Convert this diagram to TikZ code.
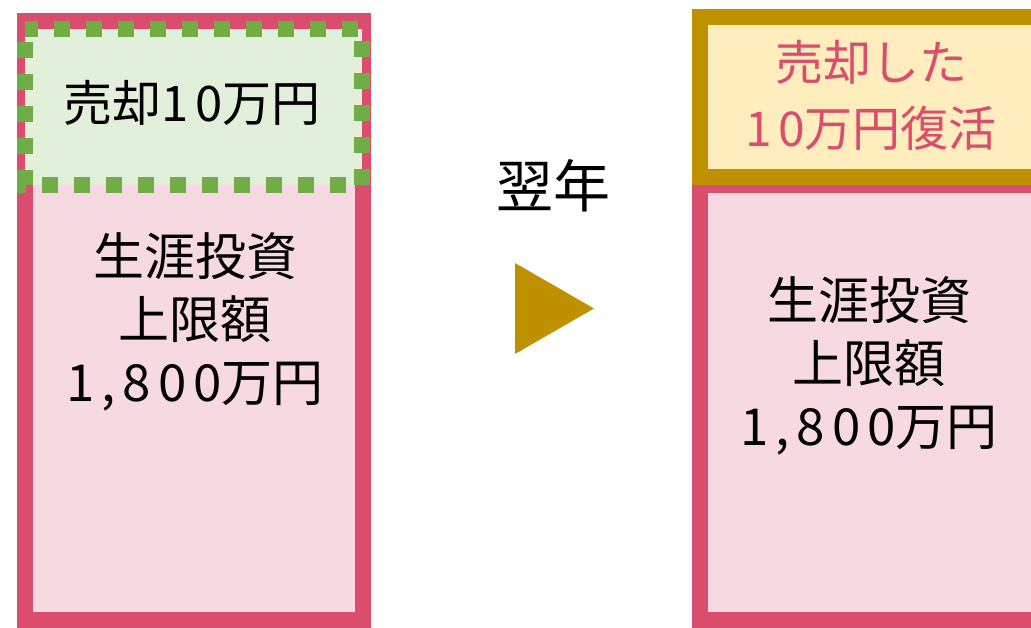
\documentclass[tikz,border=0pt]{standalone}
\usepackage{fontspec}
\newfontfamily\jp{Noto Sans CJK JP}
\newfontfamily\jpd[LetterSpace=14]{Noto Sans CJK JP}
\definecolor{pinkline}{HTML}{DB4D6D}
\definecolor{pinkfill}{HTML}{F7D9E1}
\definecolor{greenline}{HTML}{70AD47}
\definecolor{greenfill}{HTML}{E2EFDA}
\definecolor{goldline}{HTML}{BF9000}
\definecolor{goldfill}{HTML}{FFEDBD}
\tikzset{
  pinkbox/.style={draw=pinkline, fill=pinkfill, line width=16pt},
  greenbox/.style={draw=greenline, fill=greenfill, line width=16pt, dash pattern=on 16pt off 16pt, dash phase=19pt},
  goldbox/.style={draw=goldline, fill=goldfill, line width=16pt},
  bigtxt/.style={font=\jp\fontsize{51}{63}\selectfont, align=center, inner sep=0pt, text=black},
  pinktxt/.style={font=\jp\fontsize{48}{66}\selectfont, align=center, inner sep=0pt, text=pinkline},
}
\begin{document}
\begin{tikzpicture}[x=1pt,y=-1pt]
\useasboundingbox (0,0) rectangle (1031,628);
\clip (0,0) rectangle (1031,628);
% left column
\draw[pinkbox] (25,21) rectangle (363,620);
\draw[greenbox] (25,29) rectangle (362,185);
\node[bigtxt, font=\jp\fontsize{49}{60}\selectfont] (sold) at (192,103) {売却{\jpd 10}万円};
\node[bigtxt] (limitL) at (195,322) {生涯投資\\上限額\\{\jpd 1,800}万円};
% middle
\node[bigtxt, font=\jp\fontsize{57}{60}\selectfont] (next) at (553,186) {翌年};
\fill[goldline] (515,263) -- (515,354) -- (594,308.5) -- cycle;
% right column
\draw[pinkbox] (700,185) rectangle (1040,620);
\draw[goldbox] (700,17) rectangle (1040,177);
\node[pinktxt] (back) at (871,95) {売却した\\{\jpd 10}万円復活};
\node[bigtxt] (limitR) at (869,366) {生涯投資\\上限額\\{\jpd 1,800}万円};
\end{tikzpicture}
\end{document}
